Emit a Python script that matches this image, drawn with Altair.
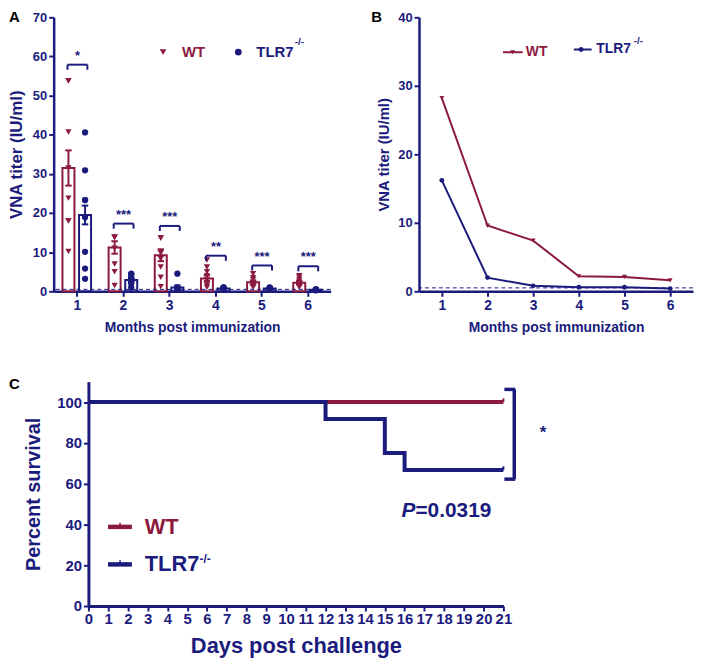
import altair as alt
import pandas as pd

NAVY = "#1b1b7d"
MAROON = "#8c1a3e"
F = "Liberation Sans"

# ---------------- data ----------------
months = [1, 2, 3, 4, 5, 6]
groups = ["WT", "TLR7"]

# Panel A: individual titers (IU/ml)
wt_pts = [
    [53.8, 53.8, 40.7, 31.5, 23.8, 18.0, 18.0, 10.2],
    [13.8, 13.8, 13.8, 11.0, 7.0, 5.0, 1.5],
    [13.6, 13.6, 10.2, 9.8, 8.3, 6.2, 3.6, 1.2],
    [8.0, 6.2, 5.0, 4.0, 3.0, 2.2, 1.5, 1.0],
    [4.5, 3.5, 3.0, 2.2, 2.0, 1.5, 1.0],
    [4.0, 3.6, 3.0, 2.5, 2.0, 1.5, 1.0],
]
tlr_pts = [
    [40.6, 30.9, 23.3, 23.3, 18.9, 10.1, 5.8, 3.2],
    [4.5, 4.3, 4.3, 3.5, 3.0, 2.5, 2.0, 1.0],
    [4.5, 1.0, 0.8, 0.7, 0.5, 0.5],
    [1.0, 1.0, 0.8, 0.7, 0.6, 0.5],
    [1.0, 0.9, 0.8, 0.7, 0.6, 0.5],
    [0.5, 0.5, 0.4, 0.4, 0.3, 0.3],
]
wt_mean = [31.5, 11.2, 9.2, 3.3, 2.3, 2.2]
wt_sem = [4.5, 1.6, 1.5, 0.8, 0.5, 0.4]
tlr_mean = [19.5, 2.9, 1.0, 0.7, 0.7, 0.4]
tlr_sem = [2.4, 0.5, 0.5, 0.1, 0.1, 0.05]
sig_y = [57.9, 17.3, 16.7, 9.1, 6.6, 6.4]
sig_label = ["*", "***", "***", "**", "***", "***"]
LOD = 0.5

# Panel B: group titers
wt_b = [28.2, 9.6, 7.4, 2.2, 2.1, 1.6]
tlr_b = [16.2, 2.0, 0.8, 0.6, 0.6, 0.4]

# Panel C: survival
wt_days = [0, 21]
wt_surv = [100, 100]
tlr_days = [0, 12, 15, 16, 21]
tlr_surv = [100, 91.7, 75.0, 66.7, 66.7]

# ---------------- tables ----------------
pts_rows = []
for m, a, b in zip(months, wt_pts, tlr_pts):
    pts_rows += [{"month": m, "group": "WT", "value": v} for v in a]
    pts_rows += [{"month": m, "group": "TLR7", "value": v} for v in b]
pts_df = pd.DataFrame(pts_rows)

bar_df = pd.DataFrame(
    [{"month": m, "group": "WT", "mean": mu, "sem": s} for m, mu, s in zip(months, wt_mean, wt_sem)]
    + [{"month": m, "group": "TLR7", "mean": mu, "sem": s} for m, mu, s in zip(months, tlr_mean, tlr_sem)]
)
sig_df = pd.DataFrame({"month": months, "by": sig_y, "label": sig_label})
b_df = pd.DataFrame(
    [{"month": m, "group": "WT", "value": v} for m, v in zip(months, wt_b)]
    + [{"month": m, "group": "TLR7", "value": v} for m, v in zip(months, tlr_b)]
)
wt_c = pd.DataFrame({"day": wt_days, "pct": wt_surv})
tlr_c = pd.DataFrame({"day": tlr_days, "pct": tlr_surv})
one = pd.DataFrame({"a": [0]})
lod_df = pd.DataFrame({"lod": [LOD]})

color_scale = alt.Scale(domain=groups, range=[MAROON, NAVY])
shape_scale = alt.Scale(domain=groups, range=["triangle-down", "circle"])


def ax(**kw):
    base = dict(labelFont=F, titleFont=F, labelColor=NAVY, titleColor=NAVY,
                domainColor=NAVY, tickColor=NAVY, labelFontWeight="bold",
                titleFontWeight="bold", grid=False, labelFlush=False,
                labelOverlap=False)
    base.update(kw)
    return alt.Axis(**base)


class Panel:
    """Shared scales/axes for every layer of one panel."""

    def __init__(self, xs, ys, xax, yax):
        self.xs, self.ys, self.xax, self.yax = xs, ys, xax, yax

    def x(self, f):
        if isinstance(f, str):
            return alt.X(f, scale=self.xs, axis=self.xax)
        return alt.X(datum=f, scale=self.xs, axis=self.xax)

    def y(self, f):
        if isinstance(f, str):
            return alt.Y(f, scale=self.ys, axis=self.yax)
        return alt.Y(datum=f, scale=self.ys, axis=self.yax)

    def txt(self, t, x, y, size, color, align="left", **kw):
        return alt.Chart(one).mark_text(text=t, font=F, fontSize=size, fontWeight="bold",
                                        color=color, align=align, baseline="middle",
                                        **kw).encode(x=self.x(x), y=self.y(y))


def letter(t, x, y):
    return alt.Chart(one).mark_text(text=t, font=F, fontSize=15, fontWeight="bold",
                                    color="black", align="left", baseline="top").encode(
        x=alt.value(x), y=alt.value(y))


COL = alt.Color("group:N", scale=color_scale, legend=None)
SHP = alt.Shape("group:N", scale=shape_scale, legend=None)

# ---------------- Panel A ----------------
PA = Panel(
    alt.Scale(domain=[0.5, 6.5], nice=False, zero=False),
    alt.Scale(domain=[0, 70], nice=False),
    ax(values=months, format="d", title="Months post immunization", labelFontSize=14,
       titleFontSize=14, domainWidth=2.5, tickWidth=2, tickSize=5, labelPadding=2,
       titlePadding=8),
    ax(values=list(range(0, 71, 10)), title="VNA titer (IU/ml)", labelFontSize=13,
       titleFontSize=17, domainWidth=2.5, tickWidth=2, tickSize=5, labelPadding=2,
       minExtent=21, maxExtent=21, titlePadding=7),
)

barsA = alt.Chart(bar_df).transform_calculate(
    xc="datum.month + (datum.group == 'WT' ? -0.18 : 0.18)",
).transform_calculate(
    xl="datum.xc - 0.13", xr="datum.xc + 0.13",
    cl="datum.xc - 0.07", cr="datum.xc + 0.07",
    lo="datum.mean - datum.sem", hi="datum.mean + datum.sem",
)
bar_rect = barsA.mark_rect(fill="white", strokeWidth=2).encode(
    x=PA.x("xl:Q"), x2="xr:Q", y=PA.y("mean:Q"), y2=alt.datum(0),
    stroke=alt.Stroke("group:N", scale=color_scale, legend=None))
err_v = barsA.mark_rule(strokeWidth=2).encode(
    x=PA.x("xc:Q"), y=PA.y("lo:Q"), y2="hi:Q", color=COL)
err_hi = barsA.mark_rule(strokeWidth=2).encode(
    x=PA.x("cl:Q"), x2="cr:Q", y=PA.y("hi:Q"), color=COL)
err_lo = barsA.mark_rule(strokeWidth=2).encode(
    x=PA.x("cl:Q"), x2="cr:Q", y=PA.y("lo:Q"), color=COL)
ptsA = alt.Chart(pts_df).transform_calculate(
    xp="datum.month + (datum.group == 'WT' ? -0.18 : 0.18)"
).mark_point(filled=True, size=40, opacity=1).encode(
    x=PA.x("xp:Q"), y=PA.y("value:Q"), color=COL, shape=SHP)
lodA = alt.Chart(lod_df).mark_rule(strokeDash=[4, 3], color=NAVY, strokeWidth=1).encode(
    y=PA.y("lod:Q"))

sig = alt.Chart(sig_df).transform_calculate(
    bl="datum.month - 0.2", brr="datum.month + 0.23", bd="datum.by - 1.3"
).transform_calculate(bc="(datum.bl + datum.brr) / 2")
sig_h = sig.mark_rule(color=NAVY, strokeWidth=2).encode(
    x=PA.x("bl:Q"), x2="brr:Q", y=PA.y("by:Q"))
sig_l = sig.mark_rule(color=NAVY, strokeWidth=2).encode(
    x=PA.x("bl:Q"), y=PA.y("by:Q"), y2="bd:Q")
sig_r = sig.mark_rule(color=NAVY, strokeWidth=2).encode(
    x=PA.x("brr:Q"), y=PA.y("by:Q"), y2="bd:Q")
sig_t = sig.mark_text(font=F, fontSize=13, fontWeight="bold", color=NAVY,
                      baseline="alphabetic", dy=-5).encode(
    x=PA.x("bc:Q"), y=PA.y("by:Q"), text="label:N")

legA_wt = alt.Chart(one).mark_point(filled=True, size=45, shape="triangle-down", color=MAROON,
                                    opacity=1).encode(x=PA.x(2.87), y=PA.y(61.1))
legA_tl = alt.Chart(one).mark_point(filled=True, size=45, shape="circle", color=NAVY,
                                    opacity=1).encode(x=PA.x(4.5), y=PA.y(61.1))

panelA = alt.layer(
    bar_rect, err_v, err_hi, err_lo, ptsA, lodA, sig_h, sig_l, sig_r, sig_t,
    legA_wt, PA.txt("WT", 3.28, 61.1, 15, MAROON),
    legA_tl, PA.txt("TLR7", 4.89, 61.1, 15, NAVY),
    PA.txt("-/-", 5.72, 63.6, 10, NAVY),
    letter("A", -45, -7),
).properties(width=279, height=276)

# ---------------- Panel B ----------------
PB = Panel(
    alt.Scale(domain=[0.5, 6.5], nice=False, zero=False),
    alt.Scale(domain=[0, 40], nice=False),
    ax(values=months, format="d", title="Months post immunization", labelFontSize=14,
       titleFontSize=14, domainWidth=2.5, tickWidth=2, tickSize=5, labelPadding=2,
       titlePadding=8),
    ax(values=[0, 10, 20, 30, 40], title="VNA titer (IU/ml)", labelFontSize=13,
       titleFontSize=15, domainWidth=2.5, tickWidth=2, tickSize=5, labelPadding=2,
       minExtent=23, maxExtent=23, titlePadding=5),
)

lineB = alt.Chart(b_df).mark_line(strokeWidth=2).encode(
    x=PB.x("month:Q"), y=PB.y("value:Q"), color=COL)
ptsB = alt.Chart(b_df).mark_point(filled=True, size=24, opacity=1).encode(
    x=PB.x("month:Q"), y=PB.y("value:Q"), color=COL, shape=SHP)
lodB = alt.Chart(lod_df).mark_rule(strokeDash=[4, 3], color=NAVY, strokeWidth=1).encode(
    y=PB.y("lod:Q"))

legB_wt_line = alt.Chart(one).mark_rule(color=MAROON, strokeWidth=2).encode(
    x=PB.x(2.34), x2=alt.X2(datum=2.77), y=PB.y(34.9))
legB_wt_pt = alt.Chart(one).mark_point(filled=True, size=24, shape="triangle-down",
                                       color=MAROON, opacity=1).encode(
    x=PB.x(2.55), y=PB.y(34.9))
legB_tl_line = alt.Chart(one).mark_rule(color=NAVY, strokeWidth=2).encode(
    x=PB.x(3.89), x2=alt.X2(datum=4.28), y=PB.y(35.3))
legB_tl_pt = alt.Chart(one).mark_point(filled=True, size=24, shape="circle",
                                       color=NAVY, opacity=1).encode(
    x=PB.x(4.05), y=PB.y(35.3))

panelB = alt.layer(
    lineB, lodB, ptsB,
    legB_wt_line, legB_wt_pt, PB.txt("WT", 2.84, 34.9, 14, MAROON),
    legB_tl_line, legB_tl_pt, PB.txt("TLR7", 4.38, 35.3, 14, NAVY),
    PB.txt("-/-", 5.2, 36.6, 10, NAVY),
    letter("B", -48, -7),
).properties(width=276, height=276)

# ---------------- Panel C ----------------
# plot origin is shared with panel A; the survival axes start 35 px further right
C_SHIFT = 35
C_W = 418
PC = Panel(
    alt.Scale(domain=[0, 21], nice=False, zero=False, range=[C_SHIFT, C_SHIFT + C_W]),
    alt.Scale(domain=[0, 110], nice=False),
    ax(values=list(range(0, 22)), format="d", title="Days post challenge",
       labelFontSize=15, titleFontSize=22, domainWidth=3, tickWidth=2, tickSize=5,
       labelPadding=1, titlePadding=9),
    ax(values=[0, 20, 40, 60, 80, 100], title="Percent survival", labelFontSize=15,
       titleFontSize=20, domainWidth=3, tickWidth=2, tickSize=5, labelPadding=2,
       minExtent=36, maxExtent=36, titlePadding=9, offset=-C_SHIFT),
)

wt_line = alt.Chart(wt_c).mark_line(interpolate="step-after", strokeWidth=4,
                                    color=MAROON).encode(x=PC.x("day:Q"), y=PC.y("pct:Q"))
tl_line = alt.Chart(tlr_c).mark_line(interpolate="step-after", strokeWidth=4,
                                     color=NAVY).encode(x=PC.x("day:Q"), y=PC.y("pct:Q"))
wt_end = alt.Chart(wt_c).transform_filter("datum.day == 21").transform_calculate(
    top="datum.pct + 1.8").mark_rule(color=MAROON, strokeWidth=2).encode(
    x=PC.x("day:Q"), y=PC.y("pct:Q"), y2="top:Q")
tl_end = alt.Chart(tlr_c).transform_filter("datum.day == 21").transform_calculate(
    top="datum.pct + 1.8").mark_rule(color=NAVY, strokeWidth=2).encode(
    x=PC.x("day:Q"), y=PC.y("pct:Q"), y2="top:Q")

br_style = dict(color=NAVY, strokeWidth=3.5)
brC_v = alt.Chart(one).mark_rule(**br_style).encode(
    x=PC.x(21.55), y=PC.y(62.2), y2=alt.Y2(datum=106.2))
brC_t = alt.Chart(one).mark_rule(**br_style).encode(
    x=PC.x(21.05), x2=alt.X2(datum=21.6), y=PC.y(106.2))
brC_b = alt.Chart(one).mark_rule(**br_style).encode(
    x=PC.x(21.05), x2=alt.X2(datum=21.6), y=PC.y(62.2))

p_it = alt.Chart(one).mark_text(text="P", font=F, fontSize=21, fontWeight="bold",
                                fontStyle="italic", color=NAVY, align="right",
                                baseline="middle").encode(x=PC.x(16.55), y=PC.y(46.4))

legC_wt = alt.Chart(one).mark_rule(color=MAROON, strokeWidth=4.5).encode(
    x=PC.x(0.99), x2=alt.X2(datum=2.2), y=PC.y(38.8))
legC_wt_t = alt.Chart(one).mark_rule(color=MAROON, strokeWidth=1.5).encode(
    x=PC.x(1.6), y=PC.y(38.8), y2=alt.Y2(datum=40.8))
legC_tl = alt.Chart(one).mark_rule(color=NAVY, strokeWidth=4.5).encode(
    x=PC.x(0.99), x2=alt.X2(datum=2.2), y=PC.y(20.4))
legC_tl_t = alt.Chart(one).mark_rule(color=NAVY, strokeWidth=1.5).encode(
    x=PC.x(1.6), y=PC.y(20.4), y2=alt.Y2(datum=22.4))

panelC = alt.layer(
    wt_line, wt_end, tl_line, tl_end, brC_v, brC_t, brC_b,
    PC.txt("*", 23.0, 85, 17, NAVY, align="center"),
    p_it, PC.txt("=0.0319", 16.55, 46.4, 21, NAVY),
    legC_wt, legC_wt_t, PC.txt("WT", 2.85, 38.8, 22, MAROON),
    legC_tl, legC_tl_t, PC.txt("TLR7", 2.85, 20.4, 22, NAVY),
    PC.txt("-/-", 5.62, 22.8, 12, NAVY),
    letter("C", -45, -5),
).properties(width=C_SHIFT + C_W, height=226)

chart = alt.vconcat(
    alt.hconcat(panelA, panelB, spacing=40),
    panelC,
    spacing=43,
).properties(
    padding={"left": 0, "top": 0, "right": 0, "bottom": 0},
    background="white",
).configure_view(stroke=None)

chart.save("out.html", embed_options={"renderer": "svg", "actions": False})
